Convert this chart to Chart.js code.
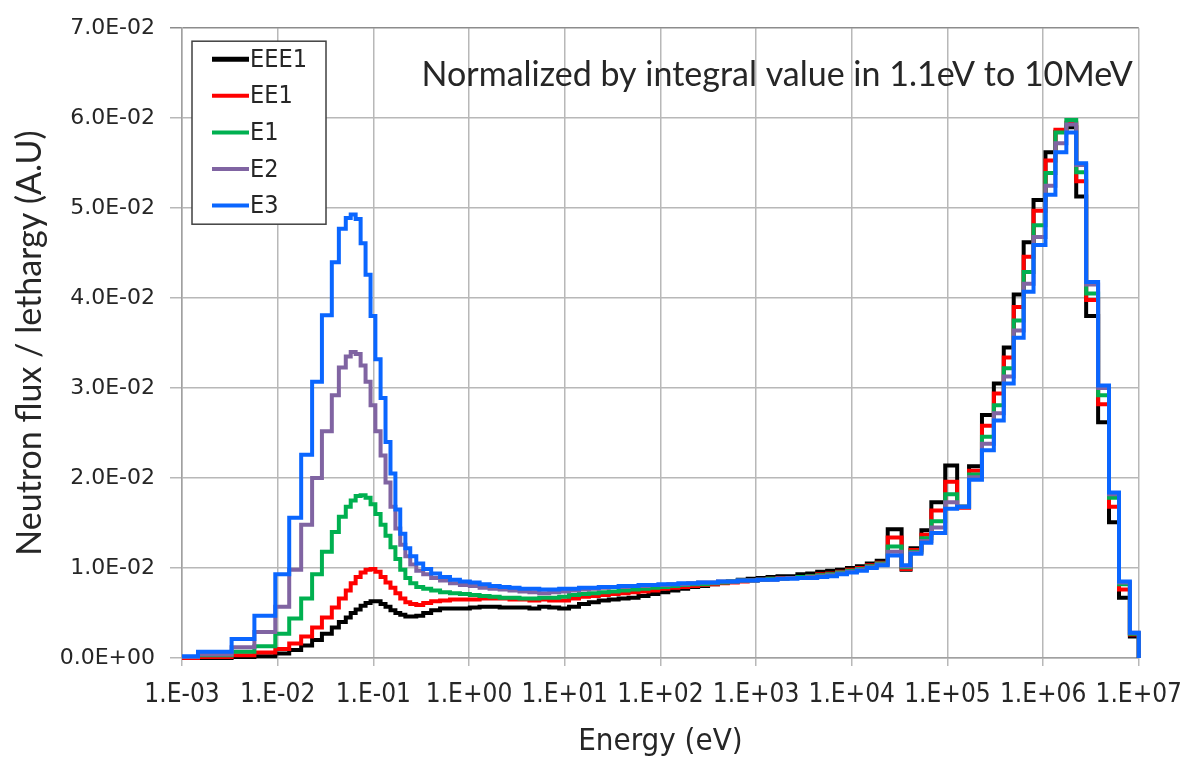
<!DOCTYPE html>
<html>
<head>
<meta charset="utf-8">
<script src="https://cdn.jsdelivr.net/npm/chart.js@4.4.1/dist/chart.umd.min.js"></script>
<style>
  html,body{margin:0;padding:0;background:#fff;}
  #wrap{width:1196px;height:764px;}
</style>
</head>
<body>
<div id="wrap"><canvas id="c" width="1196" height="764"></canvas></div>
<script>
/* energy group boundaries (eV), 96 groups: low edges + 10 MeV top */
const edges = [
  0.001, 0.00147, 0.0033, 0.00571, 0.00944, 0.0132, 0.0176, 0.0229, 0.0290, 0.0368,
  0.0436, 0.0515, 0.0580, 0.0653, 0.0736, 0.0829, 0.0935, 0.105, 0.119, 0.134,
  0.151, 0.170, 0.191, 0.216, 0.243, 0.281, 0.332, 0.402, 0.498, 0.632,
  0.803, 1.02,
  1.29, 1.64, 2.09, 2.65, 3.37, 4.28, 5.42, 6.89, 8.75, 11.1,
  14.1, 17.9, 22.7, 28.9, 36.6, 46.5, 59.1, 75.1, 95.3, 121,
  154, 195, 248, 315, 400, 507, 644, 818, 1040, 1318,
  1675, 2128, 2704, 3428, 4355, 5534, 7015, 8913, 11320, 14380,
  18240,
  23770, 33200, 41120, 53460, 67920, 94860, 126400, 168300, 229600, 305700,
  388100, 493100, 626500, 794300, 1059000, 1345000, 1750000, 2219000, 2818000, 3758000,
  4887000, 6209000, 8072000, 10000000
];

/* flux per lethargy, one value per group */
const fluxEEE1 = [
  0.0000, 0.0000, 0.0001, 0.0002, 0.0005, 0.0009, 0.0014, 0.0020, 0.0027, 0.0034,
  0.0040, 0.0045, 0.0050, 0.0054, 0.0058, 0.0061, 0.0063, 0.0063, 0.0060, 0.0057,
  0.0053, 0.0050, 0.0048, 0.0046, 0.0046, 0.0047, 0.0050, 0.0053, 0.0055, 0.0055,
  0.0055,
  0.0056, 0.0057, 0.0057, 0.0056, 0.0056, 0.0056, 0.0055, 0.0057, 0.0056, 0.0055,
  0.0057, 0.0060, 0.0062, 0.0064, 0.0065, 0.0066, 0.0067, 0.0069, 0.0071, 0.0073,
  0.0075, 0.0077, 0.0079, 0.0080, 0.0082, 0.0084, 0.0085, 0.0087, 0.0088, 0.0089,
  0.0090, 0.0091, 0.0091, 0.0093, 0.0094, 0.0096, 0.0097, 0.0098, 0.0100, 0.0102,
  0.0105, 0.0108,
  0.0143, 0.0098, 0.0122, 0.0142, 0.0173, 0.0214, 0.0168, 0.0213, 0.0270, 0.0305,
  0.0345, 0.0404, 0.0462, 0.0509, 0.0562, 0.0585, 0.0590, 0.0513, 0.0380, 0.0262,
  0.0151, 0.0067, 0.0024
];
const fluxEE1 = [
  0.0000, 0.0001, 0.0003, 0.0006, 0.0010, 0.0016, 0.0024, 0.0034, 0.0045, 0.0056,
  0.0066, 0.0075, 0.0083, 0.0090, 0.0095, 0.0098, 0.0099, 0.0096, 0.0090, 0.0084,
  0.0078, 0.0072, 0.0066, 0.0062, 0.0060, 0.0059, 0.0061, 0.0063, 0.0064, 0.0065,
  0.0065,
  0.0065, 0.0066, 0.0066, 0.0066, 0.0065, 0.0065, 0.0064, 0.0065, 0.0064, 0.0064,
  0.0066, 0.0068, 0.0069, 0.0070, 0.0071, 0.0072, 0.0073, 0.0074, 0.0075, 0.0077,
  0.0078, 0.0079, 0.0080, 0.0081, 0.0082, 0.0083, 0.0084, 0.0085, 0.0086, 0.0087,
  0.0088, 0.0089, 0.0089, 0.0090, 0.0091, 0.0093, 0.0094, 0.0096, 0.0098, 0.0100,
  0.0103, 0.0106,
  0.0134, 0.0099, 0.0120, 0.0137, 0.0164, 0.0196, 0.0167, 0.0208, 0.0258, 0.0294,
  0.0334, 0.0390, 0.0446, 0.0497, 0.0553, 0.0587, 0.0595, 0.0530, 0.0398, 0.0282,
  0.0168, 0.0076, 0.0026
];
const fluxE1 = [
  0.0001, 0.0003, 0.0007, 0.0013, 0.0027, 0.0044, 0.0066, 0.0093, 0.0118, 0.0140,
  0.0157, 0.0168, 0.0175, 0.0180, 0.0181, 0.0178, 0.0171, 0.0160, 0.0148, 0.0136,
  0.0123, 0.0110, 0.0098, 0.0089, 0.0083, 0.0079, 0.0077, 0.0075, 0.0073, 0.0072,
  0.0071,
  0.0070, 0.0069, 0.0068, 0.0067, 0.0067, 0.0066, 0.0066, 0.0067, 0.0067, 0.0068,
  0.0070, 0.0071, 0.0072, 0.0073, 0.0074, 0.0075, 0.0076, 0.0077, 0.0078, 0.0079,
  0.0080, 0.0081, 0.0082, 0.0082, 0.0083, 0.0084, 0.0085, 0.0086, 0.0086, 0.0087,
  0.0088, 0.0088, 0.0089, 0.0090, 0.0091, 0.0092, 0.0093, 0.0095, 0.0097, 0.0099,
  0.0102, 0.0105,
  0.0124, 0.0101, 0.0118, 0.0133, 0.0152, 0.0182, 0.0168, 0.0204, 0.0246, 0.0281,
  0.0322, 0.0375, 0.0429, 0.0481, 0.0539, 0.0584, 0.0598, 0.0540, 0.0405, 0.0292,
  0.0178, 0.0082, 0.0027
];
const fluxE2 = [
  0.0001, 0.0004, 0.0012, 0.0029, 0.0057, 0.0098, 0.0148, 0.0200, 0.0252, 0.0292,
  0.0323, 0.0335, 0.0340, 0.0338, 0.0325, 0.0307, 0.0281, 0.0252, 0.0225, 0.0195,
  0.0168, 0.0144, 0.0126, 0.0113, 0.0104, 0.0097, 0.0093, 0.0089, 0.0086, 0.0083,
  0.0081,
  0.0080, 0.0078, 0.0077, 0.0076, 0.0075, 0.0074, 0.0073, 0.0072, 0.0073, 0.0074,
  0.0075, 0.0076, 0.0077, 0.0078, 0.0079, 0.0079, 0.0080, 0.0080, 0.0081, 0.0081,
  0.0082, 0.0082, 0.0083, 0.0084, 0.0084, 0.0085, 0.0085, 0.0086, 0.0086, 0.0087,
  0.0087, 0.0088, 0.0089, 0.0089, 0.0090, 0.0091, 0.0092, 0.0094, 0.0096, 0.0098,
  0.0101, 0.0104,
  0.0118, 0.0102, 0.0117, 0.0130, 0.0145, 0.0173, 0.0168, 0.0201, 0.0238, 0.0272,
  0.0313, 0.0364, 0.0416, 0.0468, 0.0525, 0.0572, 0.0593, 0.0548, 0.0415, 0.0300,
  0.0182, 0.0084, 0.0028
];
const fluxE3 = [
  0.0002, 0.0007, 0.0021, 0.0047, 0.0093, 0.0156, 0.0226, 0.0307, 0.0381, 0.0440,
  0.0477, 0.0489, 0.0493, 0.0488, 0.0461, 0.0426, 0.0380, 0.0332, 0.0289, 0.0240,
  0.0205, 0.0165, 0.0138, 0.0122, 0.0113, 0.0105, 0.0099, 0.0094, 0.0090, 0.0087,
  0.0085,
  0.0084, 0.0082, 0.0080, 0.0079, 0.0078, 0.0077, 0.0077, 0.0076, 0.0076, 0.0077,
  0.0077, 0.0078, 0.0078, 0.0079, 0.0079, 0.0080, 0.0080, 0.0081, 0.0081, 0.0082,
  0.0082, 0.0083, 0.0083, 0.0084, 0.0084, 0.0085, 0.0085, 0.0086, 0.0086, 0.0087,
  0.0087, 0.0088, 0.0088, 0.0089, 0.0089, 0.0090, 0.0091, 0.0093, 0.0095, 0.0097,
  0.0100, 0.0103,
  0.0114, 0.0103, 0.0116, 0.0128, 0.0139, 0.0166, 0.0168, 0.0198, 0.0231, 0.0264,
  0.0305, 0.0356, 0.0407, 0.0459, 0.0515, 0.0562, 0.0584, 0.0550, 0.0418, 0.0303,
  0.0184, 0.0085, 0.0028
];

const seriesNames = ['EEE1', 'EE1', 'E1', 'E2', 'E3'];
const seriesColors = ['#000000', '#ff0000', '#00b050', '#8064a2', '#0a66ff'];
const seriesFlux = [fluxEEE1, fluxEE1, fluxE1, fluxE2, fluxE3];

const xTicks = [1e-3, 1e-2, 1e-1, 1e0, 1e1, 1e2, 1e3, 1e4, 1e5, 1e6, 1e7];
const yTicks = [0, 0.01, 0.02, 0.03, 0.04, 0.05, 0.06, 0.07];

const noteText = 'Normalized by integral value in 1.1eV to 10MeV';

const INK = '#262626';
const GRID = '#b8b8b8';
const NARROW = "'Liberation Sans Narrow','DejaVu Sans Condensed',sans-serif";
const SANS = "Lato,'Open Sans',sans-serif";

// histogram: each group holds its value up to the next edge, then drops at 10 MeV
function steps(vals){
  const pts = vals.map((v,i)=>({x:edges[i], y:v}));
  pts.push({x:edges[edges.length-1], y:0});
  return pts;
}

function expLabel(v, digits){
  if(v===0) return (0).toFixed(digits)+'E+00';
  const e = Math.floor(Math.log10(v)+1e-9);
  const m = v/Math.pow(10,e);
  const mant = digits ? m.toFixed(digits) : Math.round(m)+'.';
  return mant+'E'+(e<0?'-':'+')+String(Math.abs(e)).padStart(2,'0');
}

/* legend box + note inside the plot area */
const overlay = {
  id:'overlay',
  afterDraw(ch){
    const {ctx, chartArea:a} = ch;
    ctx.save();
    // note, top right
    ctx.font = '34px '+SANS;
    ctx.fillStyle = INK;
    ctx.textAlign = 'right'; ctx.textBaseline = 'middle';
    ctx.fillText(noteText, a.right-6, a.top+47);
    // legend
    const bx = a.left+10, by = a.top+13, bw = 134, bh = 183;
    ctx.fillStyle = '#fff';
    ctx.fillRect(bx, by, bw, bh);
    ctx.strokeStyle = '#404040'; ctx.lineWidth = 1.5;
    ctx.strokeRect(bx, by, bw, bh);
    ctx.font = '25px '+NARROW;
    ctx.textAlign = 'left';
    seriesNames.forEach((n,i)=>{
      const y = by+18+i*36.6;
      ctx.strokeStyle = seriesColors[i]; ctx.lineWidth = i===0 ? 5 : 4;
      ctx.beginPath(); ctx.moveTo(bx+20, y); ctx.lineTo(bx+57, y); ctx.stroke();
      ctx.fillStyle = INK;
      ctx.fillText(n, bx+58, y+1);
    });
    ctx.restore();
  }
};

new Chart(document.getElementById('c'), {
  type:'line',
  data:{
    datasets: seriesNames.map((n,i)=>({
      label:n,
      data:steps(seriesFlux[i]),
      borderColor:seriesColors[i],
      backgroundColor:seriesColors[i],
      borderWidth:4,
      stepped:true,
      pointRadius:0,
      fill:false,
      clip:6,
      order:seriesNames.length-1-i   // E3 painted last, on top
    }))
  },
  options:{
    responsive:false,
    devicePixelRatio:1,
    animation:false,
    layout:{padding:{top:20, right:50, left:0, bottom:0}},
    plugins:{legend:{display:false}, tooltip:{enabled:false}},
    scales:{
      x:{
        type:'logarithmic', min:1e-3, max:1e7,
        afterBuildTicks:s=>{ s.ticks = xTicks.map(v=>({value:v})); },
        afterFit:s=>{ s.height = 106; },
        ticks:{callback:v=>expLabel(v,0), font:{family:NARROW, size:26}, color:INK, padding:14, maxRotation:0, autoSkip:false},
        grid:{color:GRID, lineWidth:1.5, tickLength:8},
        border:{color:'#a0a0a0', width:1.5},
        title:{display:true, text:'Energy (eV)', font:{family:NARROW, size:31}, color:INK, padding:{top:0, bottom:3}}
      },
      y:{
        type:'linear', min:0, max:0.07,
        afterBuildTicks:s=>{ s.ticks = yTicks.map(v=>({value:v})); },
        afterFit:s=>{ s.width = 182; },
        ticks:{callback:v=>expLabel(v,1), font:{family:"'DejaVu Sans',sans-serif", size:22}, color:INK, padding:15},
        grid:{color:c=>c.tick && c.tick.value===0.07 ? '#8c8c8c' : GRID, lineWidth:1.5, tickLength:12},
        border:{color:'#a0a0a0', width:1.5},
        title:{display:true, text:'Neutron flux / lethargy (A.U)', font:{family:SANS, size:34}, color:INK, padding:{top:10, bottom:0}}
      }
    }
  },
  plugins:[overlay]
});
</script>
</body>
</html>
